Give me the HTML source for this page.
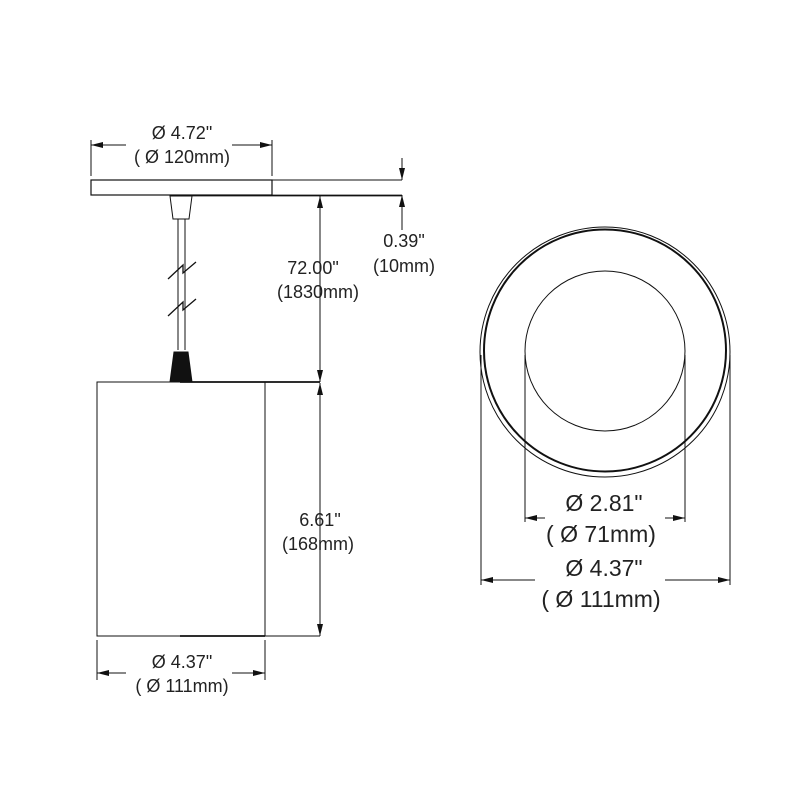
<!DOCTYPE html>
<html><head><meta charset="utf-8"><style>
html,body{margin:0;padding:0;background:#fff;}
text{font-family:"Liberation Sans",sans-serif;fill:#222;}
</style></head><body>
<svg width="800" height="800" viewBox="0 0 800 800" xmlns="http://www.w3.org/2000/svg">
<defs>
<marker id="a" viewBox="0 0 12 6" refX="12" refY="3" markerWidth="12" markerHeight="6" orient="auto-start-reverse" markerUnits="userSpaceOnUse">
<path d="M0,0 L12,3 L0,6 z" fill="#111"/>
</marker>
</defs>
<g stroke="#111" fill="none" stroke-width="1">
<rect x="91" y="180" width="181" height="15" stroke-width="1.2"/>
<line x1="272" y1="180" x2="402" y2="180"/>
<line x1="186" y1="195.5" x2="402" y2="195.5" stroke-width="1.8"/>
<line x1="91" y1="140" x2="91" y2="176"/>
<line x1="272" y1="140" x2="272" y2="176"/>
<line x1="91" y1="145" x2="126" y2="145" marker-start="url(#a)"/>
<line x1="232" y1="145" x2="272" y2="145" marker-end="url(#a)"/>
<line x1="402" y1="158" x2="402" y2="180" marker-end="url(#a)"/>
<line x1="402" y1="230" x2="402" y2="195" marker-end="url(#a)"/>
<path d="M170,196 L192,196 L189,219 L173,219 Z"/>
<line x1="178" y1="219" x2="178" y2="350"/>
<line x1="185" y1="219" x2="185" y2="350"/>
<path d="M168,279 L183,265 L183,273 L196,262" stroke-width="1.3"/>
<path d="M168,316 L183,302 L183,310 L196,299" stroke-width="1.3"/>
<path d="M174,352 L188,352 L192,382 L170,382 Z" fill="#111"/>
<line x1="320" y1="300" x2="320" y2="196" marker-end="url(#a)"/>
<line x1="320" y1="240" x2="320" y2="382" marker-end="url(#a)"/>
<rect x="97" y="382" width="168" height="254"/>
<line x1="180" y1="382" x2="320" y2="382" stroke-width="1.8"/>
<line x1="265" y1="636" x2="320" y2="636"/>
<line x1="180" y1="636" x2="265" y2="636" stroke-width="1.8"/>
<line x1="320" y1="500" x2="320" y2="383" marker-end="url(#a)"/>
<line x1="320" y1="500" x2="320" y2="636" marker-end="url(#a)"/>
<line x1="97" y1="640" x2="97" y2="680"/>
<line x1="265" y1="640" x2="265" y2="680"/>
<line x1="97" y1="673" x2="126" y2="673" marker-start="url(#a)"/>
<line x1="232" y1="673" x2="265" y2="673" marker-end="url(#a)"/>
<circle cx="605" cy="352" r="125"/>
<circle cx="605" cy="350.5" r="121" stroke-width="2"/>
<circle cx="605" cy="351" r="80"/>
<line x1="525" y1="355" x2="525" y2="522"/>
<line x1="685" y1="355" x2="685" y2="522"/>
<line x1="525" y1="518" x2="545" y2="518" marker-start="url(#a)"/>
<line x1="665" y1="518" x2="685" y2="518" marker-end="url(#a)"/>
<line x1="481" y1="355" x2="481" y2="585"/>
<line x1="730" y1="355" x2="730" y2="585"/>
<line x1="481" y1="580" x2="535" y2="580" marker-start="url(#a)"/>
<line x1="665" y1="580" x2="730" y2="580" marker-end="url(#a)"/>
</g>
<g font-size="18" text-anchor="middle">
<text x="182" y="139">Ø 4.72"</text>
<text x="182" y="163">( Ø 120mm)</text>
<text x="404" y="247">0.39"</text>
<text x="404" y="272">(10mm)</text>
<text x="313" y="274">72.00"</text>
<text x="318" y="298">(1830mm)</text>
<text x="320" y="526">6.61"</text>
<text x="318" y="550">(168mm)</text>
<text x="182" y="668">Ø 4.37"</text>
<text x="182" y="692">( Ø 111mm)</text>
</g>
<g font-size="23" text-anchor="middle">
<text x="604" y="511">Ø 2.81"</text>
<text x="601" y="542">( Ø 71mm)</text>
<text x="604" y="576">Ø 4.37"</text>
<text x="601" y="607">( Ø 111mm)</text>
</g>
</svg>
</body></html>
